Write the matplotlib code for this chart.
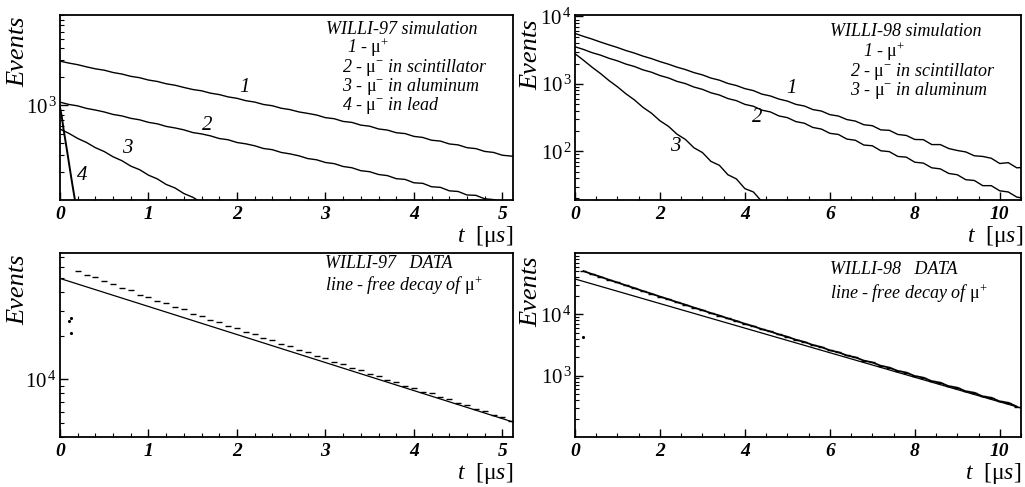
import numpy as np
import matplotlib
matplotlib.use("Agg")
import matplotlib.pyplot as plt
from matplotlib.ticker import MultipleLocator, LogLocator, NullFormatter

plt.rcParams.update({
    "font.family": "Liberation Serif",
    "mathtext.fontset": "custom",
    "mathtext.rm": "Liberation Serif",
    "mathtext.it": "Liberation Serif:italic",
    "mathtext.bf": "Liberation Serif:bold:italic",
})

# ---------------- WILLI-97 simulation (bin widths in microseconds) ----------------
BIN_97 = 0.1
SIM97_MU_PLUS = [2931, 2795, 2688, 2549, 2430, 2351, 2222, 2140, 2025, 1958,
                 1850, 1787, 1690, 1631, 1545, 1470, 1424, 1345, 1299, 1228,
                 1186, 1120, 1083, 1021, 990, 932, 901, 852, 822, 790,
                 741, 722, 676, 660, 618, 602, 563, 548, 514, 503,
                 470, 458, 428, 419, 391, 382, 357, 349, 326, 318,
                 297, 291, 281]
SIM97_SCINT = [1080, 1022, 987, 928, 892, 851, 801, 773, 729, 703,
               661, 638, 599, 577, 551, 516, 499, 476, 446, 433,
               405, 392, 374, 350, 340, 318, 307, 293, 274, 266,
               249, 242, 226, 219, 204, 199, 186, 181, 168, 165,
               152, 150, 138, 136, 125, 123, 113, 112, 103, 101,
               94, 92, 88]
SIM97_ALUM = [562, 506, 447, 405, 357, 325, 286, 260, 228, 209,
              183, 167, 146, 134, 117, 107, 94, 86]
BIN_97_LEAD = 0.02
SIM97_LEAD = [950, 760, 560, 430, 330, 250, 190, 145, 112, 88]

# ---------------- WILLI-98 simulation ----------------
BIN_98 = 0.2
SIM98_MU_PLUS = [5598, 5060, 4620, 4170, 3790, 3460, 3120, 2860, 2580, 2370,
                 2140, 1960, 1770, 1630, 1470, 1360, 1220, 1135, 1015, 945,
                 850, 795, 705, 662, 596, 556, 497, 470, 416, 396,
                 350, 334, 296, 281, 248, 240, 208, 205, 178, 172,
                 150, 149, 126, 126, 110, 103, 98, 86, 84, 79,
                 66, 68, 57, 58]
SIM98_SCINT = [3556, 3240, 2905, 2670, 2395, 2195, 1965, 1810, 1615, 1490,
               1330, 1225, 1090, 1010, 898, 830, 738, 684, 606, 564,
               497, 466, 408, 384, 335, 316, 276, 261, 226, 214,
               185, 178, 152, 146, 124, 121, 102, 99, 84, 82,
               69, 67, 57, 55, 47, 45, 38, 37, 31, 31,
               26, 25, 21, 20]
SIM98_ALUM = [2800, 2240, 1770, 1425, 1120, 905, 712, 578, 449, 368,
              284, 235, 180, 150, 113, 96, 71, 62, 45, 39,
              28, 25, 18, 15]

# ---------------- WILLI-97 data ----------------
DATA97_T0, DATA97_DT = 0.2, 0.1
DATA97 = [56600, 52900, 50900, 47700, 45800, 42800, 41300, 38700, 37400, 34900,
          33700, 31600, 30500, 28600, 27700, 25900, 25000, 23400, 22700, 21300,
          20600, 19300, 18700, 17500, 17000, 15900, 15450, 14450, 14050, 13150,
          12780, 11950, 11640, 10880, 10590, 9920, 9650, 9030, 8790, 8240,
          8010, 7510, 7300, 6850, 6660, 6250, 6070, 5700, 5540, 5200]
DATA97_EARLY_T = [0.10, 0.12, 0.12]
DATA97_EARLY_N = [25500, 26800, 21000]
FREE97_T = [0.0, 5.12]
FREE97_N = [50000, 5080]

# ---------------- WILLI-98 data ----------------
DATA98_T0, DATA98_DT = 0.2, 0.2
DATA98 = [50670, 45300, 40950, 36600, 33050, 29600, 26750, 23950, 21700, 19450,
          17620, 15800, 14350, 12880, 11700, 10480, 9560, 8570, 7810, 7000,
          6400, 5730, 5250, 4700, 4310, 3850, 3550, 3160, 2930, 2590,
          2410, 2135, 1990, 1760, 1645, 1450, 1355, 1195, 1125, 985,
          930, 812, 770, 672, 638, 555, 528, 458, 438, 380,
          362, 314]
DATA98_EARLY_T = [0.18]
DATA98_EARLY_N = [4300]
FREE98_T = [0.0, 10.5]
FREE98_N = [37700, 297]

W, H = 1025, 487
fig = plt.figure(figsize=(W / 100, H / 100), dpi=100)


def px_axes(x0, y0, x1, y1):
    return fig.add_axes([x0 / W, 1 - y1 / H, (x1 - x0) / W, (y1 - y0) / H])


def decade_label(p):
    return r"$\mathit{10}^{\,\mathit{%d}}$" % p


def style(ax, xmax, xmajor, xminor, ylim, ypows):
    ax.set_yscale("log")
    ax.set_xlim(0, xmax)
    ax.set_ylim(*ylim)
    ax.xaxis.set_major_locator(MultipleLocator(xmajor))
    ax.xaxis.set_minor_locator(MultipleLocator(xminor))
    ax.set_yticks([10.0 ** p for p in ypows], labels=[decade_label(p) for p in ypows])
    ax.yaxis.set_minor_locator(LogLocator(base=10, subs=np.arange(2, 10), numticks=20))
    ax.yaxis.set_minor_formatter(NullFormatter())
    ax.tick_params(which="both", direction="in", top=False, right=False)
    ax.tick_params(which="major", length=6, width=1.0)
    ax.tick_params(which="minor", length=3, width=0.8)
    ax.tick_params(axis="x", labelsize=14, pad=4)
    ax.tick_params(axis="y", labelsize=15, pad=2)
    for lab in ax.get_xticklabels():
        lab.set_fontstyle("italic")
        lab.set_fontweight("bold")
    for sp in ax.spines.values():
        sp.set_linewidth(1.3)


def hist(ax, values, width, lw=1.0):
    # counts plotted at the start of each time bin
    t = np.arange(len(values)) * width
    ax.plot(t, values, color="black", linewidth=lw)


ann = dict(fontsize=13, fontstyle="italic", color="black")
events = dict(fontsize=19, fontstyle="italic", rotation=90, ha="center", va="center")
tlabel = r"$\mathit{t}$  [$\mathrm{\mu}\mathit{s}$]"

# ---- top left: WILLI-97 simulation ----
ax1 = px_axes(60, 15, 513, 200)
hist(ax1, SIM97_MU_PLUS, BIN_97)
hist(ax1, SIM97_SCINT, BIN_97)
hist(ax1, SIM97_ALUM, BIN_97)
hist(ax1, SIM97_LEAD, BIN_97_LEAD, lw=1.4)
style(ax1, 5.12, 1, 0.2, (100, 9000), [3])
for txt, x, y in [("1", 2.09, 1530), ("2", 1.66, 606), ("3", 0.76, 350), ("4", 0.25, 183)]:
    ax1.text(x, y, txt, fontsize=15, fontstyle="italic", ha="center", va="center")

# ---- top right: WILLI-98 simulation ----
ax2 = px_axes(575, 15, 1021, 200)
hist(ax2, SIM98_MU_PLUS, BIN_98)
hist(ax2, SIM98_SCINT, BIN_98)
hist(ax2, SIM98_ALUM, BIN_98)
style(ax2, 10.5, 2, 0.5, (19, 10500), [2, 3, 4])
for txt, x, y in [("1", 5.1, 842), ("2", 4.3, 321), ("3", 2.35, 119)]:
    ax2.text(x, y, txt, fontsize=15, fontstyle="italic", ha="center", va="center")

# ---- bottom left: WILLI-97 data ----
ax3 = px_axes(60, 253, 513, 437)
t97 = DATA97_T0 + DATA97_DT * np.arange(len(DATA97))
ax3.plot(t97, DATA97, ls="none", marker="_", ms=4.5, mew=1.0, color="black")
ax3.plot(DATA97_EARLY_T, DATA97_EARLY_N, ls="none", marker=".", ms=2.5, color="black")
ax3.plot(FREE97_T, FREE97_N, color="black", lw=0.9)
style(ax3, 5.12, 1, 0.2, (4000, 75000), [4])

# ---- bottom right: WILLI-98 data ----
ax4 = px_axes(575, 253, 1021, 437)
t98 = DATA98_T0 + DATA98_DT * np.arange(len(DATA98))
ax4.plot(t98, DATA98, ls="-", lw=1.3, marker="_", ms=5, mew=1.0, color="black")
ax4.plot(DATA98_EARLY_T, DATA98_EARLY_N, ls="none", marker=".", ms=2.5, color="black")
ax4.plot(FREE98_T, FREE98_N, color="black", lw=0.9)
style(ax4, 10.5, 2, 0.5, (100, 100000), [3, 4])

# ---- axis titles ----
for x, y in [(18, 52), (18, 290), (531, 55), (531, 292)]:
    fig.text(x / W, 1 - y / H, "Events", **events)
for x, y in [(513, 236), (513, 473), (1023, 236), (1021, 473)]:
    fig.text(x / W, 1 - y / H, tlabel, fontsize=17, ha="right", va="center")

# ---- legends written as text ----
def ftext(x, y, s, **kw):
    fig.text(x / W, 1 - y / H, s, va="baseline", **kw)

ftext(326, 34, "WILLI-97 simulation", **ann)
ftext(347, 53, r"1 - $\mathrm{\mu}^{+}$", **ann)
ftext(342, 72, r"2 - $\mathrm{\mu}^{-}$ in scintillator", **ann)
ftext(342, 91, r"3 - $\mathrm{\mu}^{-}$ in aluminum", **ann)
ftext(342, 110, r"4 - $\mathrm{\mu}^{-}$ in lead", **ann)

ftext(830, 36, "WILLI-98 simulation", **ann)
ftext(863, 57, r"1 - $\mathrm{\mu}^{+}$", **ann)
ftext(850, 76, r"2 - $\mathrm{\mu}^{-}$ in scintillator", **ann)
ftext(850, 95, r"3 - $\mathrm{\mu}^{-}$ in aluminum", **ann)

ftext(325, 268, "WILLI-97   DATA", **ann)
ftext(325, 291, r"line - free decay of $\mathrm{\mu}^{+}$", **ann)
ftext(830, 274, "WILLI-98   DATA", **ann)
ftext(830, 299, r"line - free decay of $\mathrm{\mu}^{+}$", **ann)

fig.savefig("out.png", dpi=100)
